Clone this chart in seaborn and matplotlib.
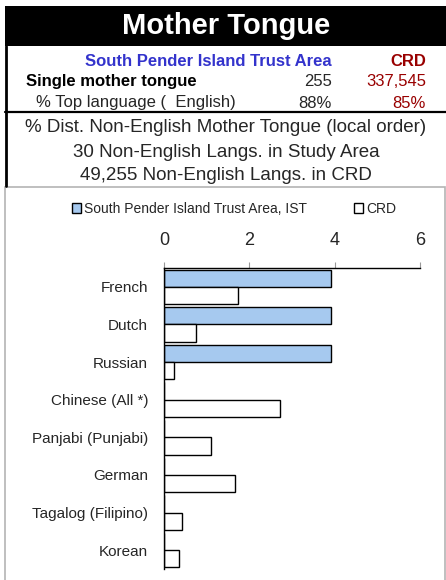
import matplotlib
matplotlib.use('Agg')
import matplotlib.pyplot as plt
from matplotlib.patches import Rectangle
from matplotlib.lines import Line2D
import pandas as pd
import seaborn as sns

# Chart data (percent of non-English mother tongue)
languages = ['French', 'Dutch', 'Russian', 'Chinese (All *)', 'Panjabi (Punjabi)',
             'German', 'Tagalog (Filipino)', 'Korean']
area_pct = [3.92, 3.92, 3.92, 0, 0, 0, 0, 0]
crd_pct = [1.73, 0.75, 0.23, 2.72, 1.10, 1.67, 0.42, 0.34]
series_names = ['South Pender Island Trust Area, IST', 'CRD']
x_ticks = [0, 2, 4, 6]

# Header table values
area_name = 'South Pender Island Trust Area'
single_area, single_crd = '255', '337,545'
top_area, top_crd = '88%', '85%'

df = pd.DataFrame({
    'Language': languages * 2,
    'Pct': area_pct + crd_pct,
    'Series': [series_names[0]] * len(languages) + [series_names[1]] * len(languages),
})

sns.set_style('white')
plt.rcParams['font.family'] = ['Liberation Sans', 'DejaVu Sans']

W, H = 446, 580
fig = plt.figure(figsize=(W / 100, H / 100), dpi=100)


def fx(x):
    return x / W


def fy(y):
    return 1 - y / H


blue_txt = '#3333cc'
red_txt = '#990000'

# Header block
fig.add_artist(Rectangle((fx(5), fy(46)), fx(441), 40 / H, transform=fig.transFigure,
                         facecolor='black', edgecolor='none'))
fig.text(fx(226), fy(26), 'Mother Tongue', color='white', fontsize=21, fontweight='bold',
         ha='center', va='center')
fig.add_artist(Line2D([fx(6), fx(6)], [fy(46), fy(186)], color='black', lw=2,
                      transform=fig.transFigure))
fig.add_artist(Line2D([fx(5), fx(446)], [fy(112), fy(112)], color='black', lw=1.6,
                      transform=fig.transFigure))

fig.text(fx(332), fy(62), area_name, color=blue_txt, fontsize=12, fontweight='bold',
         ha='right', va='center')
fig.text(fx(426), fy(62), 'CRD', color=red_txt, fontsize=12, fontweight='bold',
         ha='right', va='center')
fig.text(fx(26), fy(82), 'Single mother tongue', color='black', fontsize=12,
         fontweight='bold', ha='left', va='center')
fig.text(fx(332), fy(82), single_area, fontsize=12, ha='right', va='center')
fig.text(fx(426), fy(82), single_crd, color=red_txt, fontsize=12, ha='right', va='center')
fig.text(fx(36), fy(103), '% Top language (  English)', fontsize=12, ha='left', va='center')
fig.text(fx(332), fy(103), top_area, fontsize=12, ha='right', va='center')
fig.text(fx(426), fy(103), top_crd, color=red_txt, fontsize=12, ha='right', va='center')

fig.text(fx(226), fy(128), '% Dist. Non-English Mother Tongue (local order)', fontsize=13.5,
         ha='center', va='center')
fig.text(fx(226), fy(152), '30 Non-English Langs. in Study Area', fontsize=13.5,
         ha='center', va='center')
fig.text(fx(226), fy(175), '49,255 Non-English Langs. in CRD', fontsize=13.5,
         ha='center', va='center')

# Chart frame
fig.add_artist(Rectangle((fx(5), fy(582)), fx(440), 395 / H, transform=fig.transFigure,
                         facecolor='none', edgecolor='#b4b4b4', lw=1.2))

ax = fig.add_axes([fx(164), fy(569), fx(256), (569 - 268) / H])
sns.barplot(data=df, y='Language', x='Pct', hue='Series', orient='h',
            palette=['#a6c9ef', 'white'], saturation=1, edgecolor='black', linewidth=1,
            width=0.92, ax=ax)

ax.set_xlim(0, 6)
ax.set_xticks(x_ticks)
ax.xaxis.tick_top()
ax.set_xlabel('')
ax.set_ylabel('')
for side in ['right', 'bottom']:
    ax.spines[side].set_visible(False)
for side in ['top', 'left']:
    ax.spines[side].set_color('black')
    ax.spines[side].set_linewidth(1)
ax.tick_params(axis='x', which='both', top=True, bottom=False, length=4.3, color='#999999',
               pad=9.5, labelsize=13)
ax.tick_params(axis='y', length=0, pad=11.5, labelsize=11)

handles, labels = ax.get_legend_handles_labels()
ax.get_legend().remove()
fig.legend(handles, labels, loc='center', bbox_to_anchor=(fx(234), fy(209)), ncol=2,
           frameon=False, fontsize=10, handlelength=0.65, handleheight=0.65,
           handletextpad=0.2, columnspacing=3.4)

fig.savefig('out.png', dpi=100)
